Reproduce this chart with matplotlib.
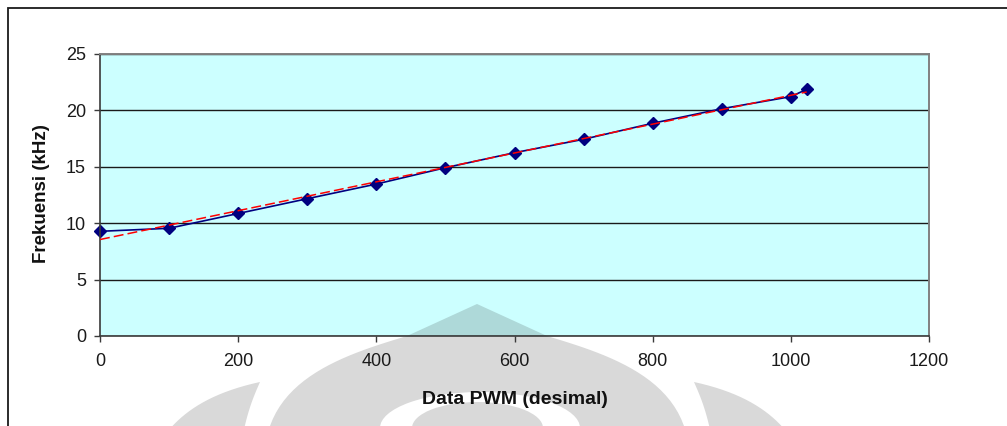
import numpy as np
import matplotlib
matplotlib.use("Agg")
import matplotlib.pyplot as plt
from matplotlib.patches import Polygon, Ellipse, Rectangle

# PWM duty value (decimal) vs. measured output frequency (kHz)
pwm = [0, 100, 200, 300, 400, 500, 600, 700, 800, 900, 1000, 1023]
freq_khz = [9.28, 9.55, 10.86, 12.17, 13.47, 14.92, 16.25, 17.44, 18.86, 20.15, 21.22, 21.87]
x_ticks = [0, 200, 400, 600, 800, 1000, 1200]
y_ticks = [0, 5, 10, 15, 20, 25]
x_label = "Data PWM (desimal)"
y_label = "Frekuensi (kHz)"

W, H = 1007, 426
plt.rcParams["font.family"] = ["Liberation Sans", "DejaVu Sans"]

fig = plt.figure(figsize=(W / 100, H / 100), dpi=100)
fig.patch.set_facecolor("white")


def fp(pts):
    """Pixel coordinates (origin top-left) -> figure fraction."""
    return [(x / W, 1 - y / H) for x, y in pts]


def bezier(p0, p1, p2, p3, n=24):
    t = np.linspace(0, 1, n)[:, None]
    p0, p1, p2, p3 = (np.array(p, float) for p in (p0, p1, p2, p3))
    pts = (1 - t) ** 3 * p0 + 3 * (1 - t) ** 2 * t * p1 + 3 * (1 - t) * t ** 2 * p2 + t ** 3 * p3
    return [tuple(p) for p in pts]


def mirror(pts, cx=477):
    return [(2 * cx - x, y) for x, y in pts]


# Chart-area frame
fig.patches.append(Rectangle((8 / W, 1 - 445 / H), (1030 - 8) / W, (445 - 8) / H,
                             transform=fig.transFigure, fill=False,
                             edgecolor="#1a1a1a", linewidth=1.3, zorder=-2))

# Background emblem
grey = "#d9d9d9"
right_edge = bezier((547, 336), (600, 352), (665, 372), (684, 426)) + [(690, 450)]
centre = [(477, 304)] + right_edge + mirror(right_edge)[::-1]
left_wing = ([(260, 382)] + bezier((260, 382), (252, 400), (246, 415), (240, 450))
             + bezier((155, 450), (172, 420), (200, 395), (260, 382))[:-1])
right_wing = mirror(left_wing, 477)
for shape in (centre, left_wing, right_wing):
    fig.patches.append(Polygon(fp(shape), closed=True, transform=fig.transFigure,
                               facecolor=grey, edgecolor="none", zorder=-1))
fig.patches.append(Ellipse((480 / W, 1 - 428 / H), 200 / W, 72 / H,
                           transform=fig.transFigure, facecolor="white",
                           edgecolor="none", zorder=-0.9))
fig.patches.append(Ellipse((477.5 / W, 1 - 428 / H), 131 / W, 52 / H,
                           transform=fig.transFigure, facecolor=grey,
                           edgecolor="none", zorder=-0.8))

# Plot area
left, right, top, bottom = 100, 929, 54, 336
ax = fig.add_axes([left / W, 1 - bottom / H, (right - left) / W, (bottom - top) / H])
ax.set_facecolor("#ccffff")

# Emblem tip showing through the plot area
tip = Polygon(fp([(477, 304), (547, 336), (547, 340), (407, 340), (407, 336)]),
              closed=True, transform=fig.transFigure, facecolor="#aed9d9",
              edgecolor="none", zorder=0.3)
ax.add_patch(tip)
tip.set_clip_path(ax.patch)

ax.set_xlim(0, 1200)
ax.set_ylim(0, 25)
ax.set_xticks(x_ticks)
ax.set_yticks(y_ticks)
ax.yaxis.grid(True, color="#1a1a1a", linewidth=1.0)
ax.set_axisbelow(True)

ax.plot(pwm, freq_khz, color="#000080", linewidth=1.2, marker="D",
        markersize=6.4, markerfacecolor="#000080", markeredgecolor="#000080",
        zorder=2, clip_on=False)

# Linear trendline
slope, intercept = np.polyfit(pwm, freq_khz, 1)
tx = np.array([pwm[0], pwm[-1]])
ax.plot(tx, slope * tx + intercept, color="#ff0000", linewidth=1.1,
        linestyle=(0, (6.5, 2.7)), zorder=3)

for side in ("left", "bottom"):
    ax.spines[side].set_color("#3a3a3a")
    ax.spines[side].set_linewidth(1.2)
for side in ("top", "right"):
    ax.spines[side].set_color("#808080")
    ax.spines[side].set_linewidth(1.4)

ax.tick_params(axis="both", direction="out", length=4.5, width=1.0,
               color="#3a3a3a", labelsize=13, labelcolor="#1a1a1a")
ax.tick_params(axis="x", pad=7.5)
ax.tick_params(axis="y", pad=5.5)

fig.text(514.5 / W, 1 - 399 / H, x_label, ha="center", va="center",
         fontsize=14, fontweight="bold", color="#111111")
fig.text(42 / W, 1 - 194 / H, y_label, ha="center", va="center", rotation=90,
         fontsize=13.5, fontweight="bold", color="#111111")

fig.savefig("out.png", dpi=100)
